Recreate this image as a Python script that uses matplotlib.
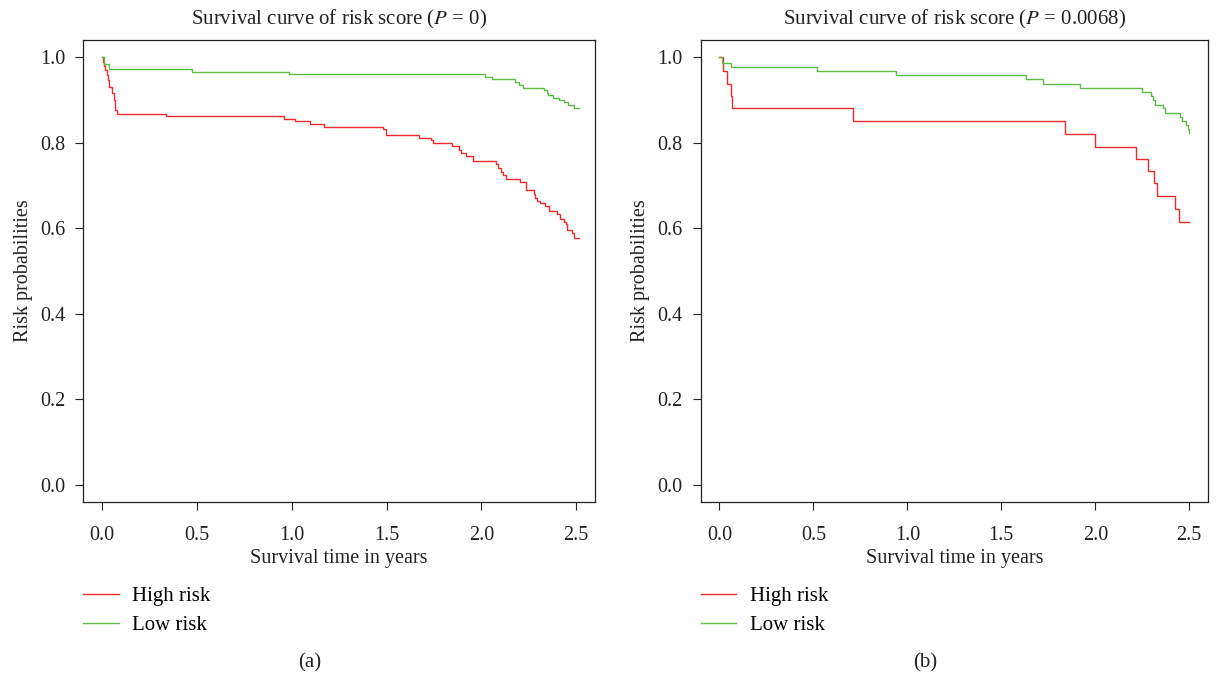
import matplotlib
matplotlib.use("Agg")
import matplotlib.pyplot as plt

matplotlib.rcParams['font.family'] = ['Liberation Serif', 'DejaVu Serif']
matplotlib.rcParams['mathtext.fontset'] = 'stix'

red = "#EE2C2C"
green = "#5DBB46"

# panel (a): P = 0
a_high_t = [0, 0.003, 0.010, 0.017, 0.024, 0.031, 0.038, 0.052, 0.060, 0.067, 0.070, 0.077,
            0.337, 0.960, 1.015, 1.094, 1.168, 1.481, 1.495, 1.669, 1.734, 1.745, 1.845, 1.882,
            1.891, 1.917, 1.956, 2.079, 2.090, 2.102, 2.114, 2.132, 2.202, 2.237, 2.278, 2.285,
            2.295, 2.308, 2.334, 2.355, 2.401, 2.413, 2.434, 2.448, 2.454, 2.480, 2.490, 2.513]
a_high_s = [1.0, 0.989, 0.980, 0.969, 0.959, 0.946, 0.930, 0.915, 0.900, 0.888, 0.876, 0.868,
            0.862, 0.856, 0.850, 0.843, 0.837, 0.831, 0.818, 0.812, 0.806, 0.800, 0.793, 0.782,
            0.775, 0.769, 0.757, 0.750, 0.740, 0.731, 0.724, 0.714, 0.707, 0.689, 0.681, 0.671,
            0.664, 0.658, 0.652, 0.640, 0.633, 0.621, 0.615, 0.609, 0.597, 0.589, 0.578, 0.578]
a_low_t = [0, 0.012, 0.038, 0.473, 0.985, 2.021, 2.058, 2.176, 2.199, 2.220, 2.331, 2.348,
           2.353, 2.378, 2.410, 2.434, 2.459, 2.487, 2.513]
a_low_s = [1.0, 0.985, 0.973, 0.966, 0.960, 0.954, 0.948, 0.942, 0.935, 0.929, 0.923, 0.917,
           0.911, 0.905, 0.900, 0.894, 0.887, 0.881, 0.881]

# panel (b): P = 0.0068
b_high_t = [0, 0.021, 0.039, 0.062, 0.069, 0.708, 1.839, 1.999, 2.216, 2.282, 2.310, 2.331,
            2.425, 2.443, 2.500]
b_high_s = [1.0, 0.967, 0.938, 0.909, 0.880, 0.850, 0.821, 0.791, 0.763, 0.733, 0.705, 0.675,
            0.645, 0.615, 0.615]
b_low_t = [0, 0.016, 0.062, 0.517, 0.938, 1.632, 1.721, 1.919, 2.248, 2.296, 2.305, 2.319,
           2.363, 2.370, 2.452, 2.464, 2.482, 2.491, 2.500]
b_low_s = [1.0, 0.987, 0.977, 0.967, 0.959, 0.948, 0.938, 0.928, 0.919, 0.909, 0.900, 0.889,
           0.880, 0.870, 0.860, 0.851, 0.841, 0.831, 0.823]

titles = [r"Survival curve of risk score ($P$ = 0)", r"Survival curve of risk score ($P$ = 0.0068)"]
panel_tags = ["(a)", "(b)"]
xticks = [0, 0.5, 1.0, 1.5, 2.0, 2.5]
yticks = [0.0, 0.2, 0.4, 0.6, 0.8, 1.0]

fs_tick = 14.5
fs_lab = 14.5
fs_title = 15
fs_leg = 15
ink = '#222222'

fig = plt.figure(figsize=(12.19, 6.75), dpi=100)
ax_a = fig.add_axes([0.0683, 0.2563, 0.4198, 0.6844])
ax_b = fig.add_axes([0.5748, 0.2563, 0.4162, 0.6844])

panels = [(ax_a, a_high_t, a_high_s, a_low_t, a_low_s),
          (ax_b, b_high_t, b_high_s, b_low_t, b_low_s)]

for i, (ax, ht, hs, lt, ls) in enumerate(panels):
    ax.step(ht, hs, where='post', color=red, linewidth=1.0, label='High risk')
    ax.step(lt, ls, where='post', color=green, linewidth=1.0, label='Low risk')
    ax.set_xlim(-0.1, 2.6)
    ax.set_ylim(-0.04, 1.04)
    ax.set_xticks(xticks)
    ax.set_xticklabels(['{:.1f}'.format(x) for x in xticks])
    ax.set_yticks(yticks)
    ax.set_yticklabels(['{:.1f}'.format(y) for y in yticks])
    ax.tick_params(direction='out', length=6, width=0.8, labelsize=fs_tick, colors=ink)
    ax.tick_params(axis='x', pad=11)
    ax.tick_params(axis='y', pad=7)
    for s in ax.spines.values():
        s.set_linewidth(0.9)
        s.set_color(ink)
    ax.set_xlabel('Survival time in years', fontsize=fs_lab, labelpad=3, color=ink)
    ax.set_ylabel('Risk probabilities', fontsize=fs_lab, labelpad=5, color=ink)
    ax.set_title(titles[i], fontsize=fs_title, pad=11, color=ink)
    ax.legend(loc='upper left', bbox_to_anchor=(0.0, -0.183), frameon=False, fontsize=fs_leg,
              handlelength=1.7, handletextpad=0.65, labelspacing=0.45, borderpad=0, borderaxespad=0)

fig.text(0.2543, 0.018, panel_tags[0], ha='center', va='center', fontsize=fs_leg, color=ink)
fig.text(0.7588, 0.018, panel_tags[1], ha='center', va='center', fontsize=fs_leg, color=ink)

fig.savefig('out.png', dpi=100)
